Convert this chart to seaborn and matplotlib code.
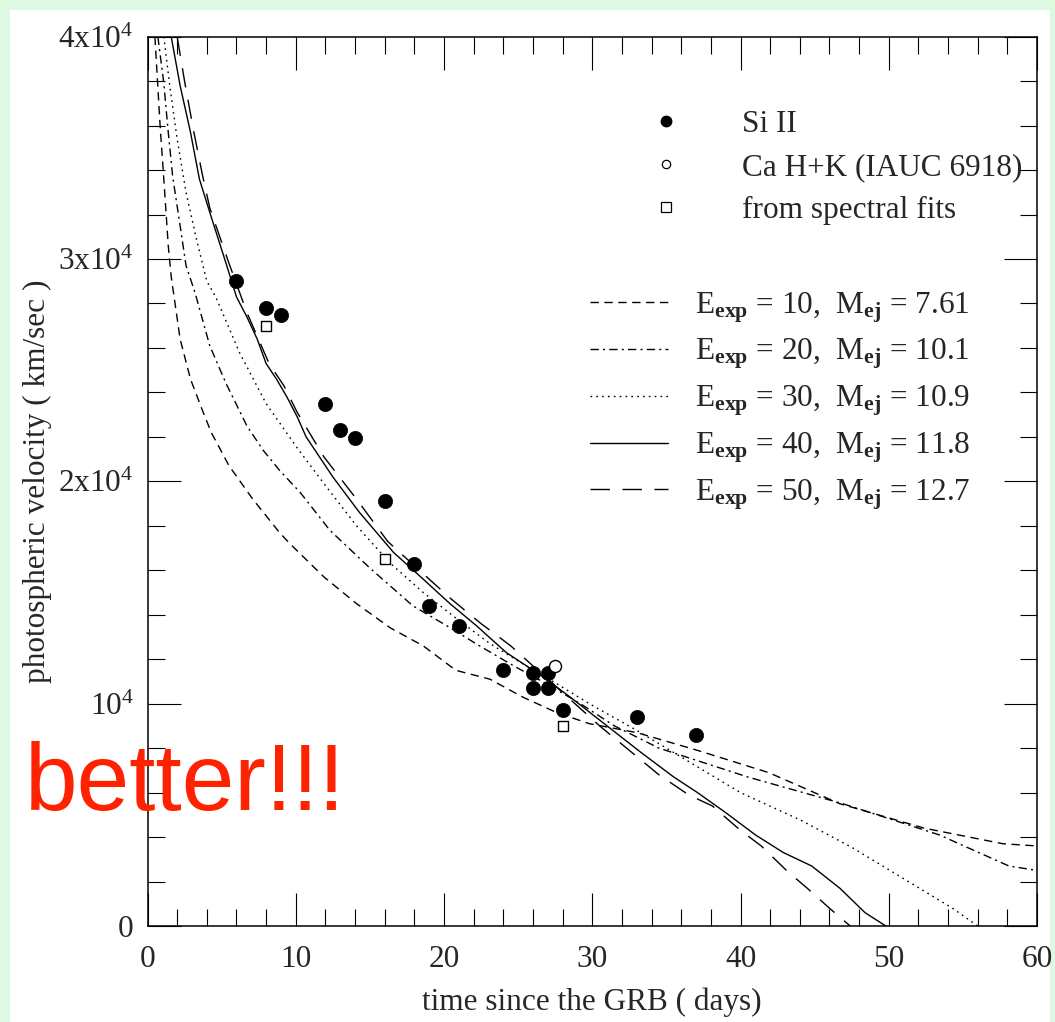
import matplotlib
matplotlib.use("Agg")
import numpy as np
import pandas as pd
import matplotlib.pyplot as plt
from matplotlib.lines import Line2D
from matplotlib.patches import Rectangle
from matplotlib.ticker import MultipleLocator, FixedLocator, FixedFormatter
import seaborn as sns

# ---- observed photospheric velocities (km/s) ----
si_days = [6, 8, 9, 12, 13, 14, 16, 18, 19, 21, 24, 26, 26, 27, 27, 28, 33, 37]
si_vel = [29000, 27800, 27500, 23500, 22300, 21950, 19100, 16300, 14400,
          13500, 11500, 11400, 10700, 11400, 10700, 9700, 9400, 8600]

ca_days = [27.5]
ca_vel = [11700]

fit_days = [8, 16, 28]
fit_vel = [27000, 16500, 9000]

# ---- model curves (km/s) ----
e10_days = [0.5, 0.85, 1.1, 1.4, 1.6, 2.2, 2.9, 3.7, 4.3, 5.5, 7.1, 8.9, 9.6, 11.9,
            14.1, 16.4, 18.6, 20.8, 23.1, 25.3, 27.6, 29.8, 33.0, 37.1, 41.9, 46.7,
            52.4, 57.7, 60.0]
e10_vel = [40000, 36000, 33600, 30600, 29200, 26400, 24600, 23200, 22200, 20700,
           19200, 17700, 17200, 15700, 14500, 13400, 12600, 11500, 11100, 10300,
           9600, 9100, 8700, 7900, 6900, 5500, 4400, 3700, 3600]

e20_days = [0.7, 1.1, 1.4, 1.7, 2.2, 2.6, 3.2, 4.2, 5.3, 6.7, 7.8, 8.9, 10.3, 12.3,
            15.0, 17.9, 20.2, 22.4, 24.7, 26.9, 29.2, 31.5, 34.5, 40.5, 46.9, 53.4,
            58.1, 60.0]
e20_vel = [40000, 37900, 35700, 33700, 31500, 29700, 28500, 26100, 24400, 22500,
           21400, 20500, 19500, 17800, 16100, 14400, 13500, 12600, 11700, 10900,
           10000, 9000, 8000, 6700, 5500, 4100, 2700, 2500]

e30_days = [1.1, 1.5, 2.0, 2.6, 3.3, 4.0, 4.6, 6.2, 8.0, 10.1, 11.9, 14.1, 16.4,
            18.6, 20.9, 23.1, 25.3, 27.6, 29.8, 33.0, 36.0, 40.0, 44.1, 47.6, 51.2,
            54.3, 56.0]
e30_vel = [40000, 37800, 35400, 33000, 30900, 29000, 28300, 25800, 23500, 21500,
           19900, 18000, 16300, 15000, 13800, 12700, 11800, 10900, 10000, 8800,
           7600, 6000, 4750, 3500, 2050, 800, 0]

e40_days = [1.6, 2.2, 2.9, 3.5, 4.2, 5.3, 6.0, 6.7, 7.4, 8.0, 8.7, 9.4, 10.1, 10.7,
            12.5, 14.3, 16.6, 18.6, 20.4, 22.2, 24.2, 26.7, 28.7, 31.0, 33.3, 35.5,
            37.1, 39.0, 41.0, 42.9, 44.8, 46.7, 48.4, 49.8]
e40_vel = [40000, 37800, 35700, 33600, 32100, 29800, 28300, 27400, 26400, 25300,
           24600, 23800, 22900, 22000, 20200, 18600, 16800, 15600, 14500, 13500,
           12300, 11200, 10200, 9000, 7800, 6700, 6000, 5100, 4100, 3300, 2700,
           1700, 600, 0]

e50_days = [2.0, 2.5, 3.1, 3.7, 4.2, 5.5, 6.7, 8.2, 9.2, 10.1, 11.9, 14.1, 16.2,
            18.5, 20.5, 22.5, 24.5, 26.5, 28.5, 30.5, 32.5, 34.5, 36.5, 38.1, 40.0,
            41.4, 43.1, 44.5, 46.0, 47.4]
e50_vel = [40000, 38000, 35800, 33800, 32300, 29800, 27600, 25300, 24300, 23100,
           21100, 19200, 17300, 15900, 14700, 13600, 12600, 11400, 10200, 9000,
           7900, 6800, 5900, 5400, 4300, 3600, 2500, 1700, 800, 0]

model_names = ["E10", "E20", "E30", "E40", "E50"]
model_labels = [
    r"E$_{\mathbf{exp}}$ = 10,  M$_{\mathbf{ej}}$ = 7.61",
    r"E$_{\mathbf{exp}}$ = 20,  M$_{\mathbf{ej}}$ = 10.1",
    r"E$_{\mathbf{exp}}$ = 30,  M$_{\mathbf{ej}}$ = 10.9",
    r"E$_{\mathbf{exp}}$ = 40,  M$_{\mathbf{ej}}$ = 11.8",
    r"E$_{\mathbf{exp}}$ = 50,  M$_{\mathbf{ej}}$ = 12.7",
]
point_labels = ["Si II", "Ca H+K (IAUC 6918)", "from spectral fits"]

x_ticks = [0, 10, 20, 30, 40, 50, 60]
y_ticks = [0, 10000, 20000, 30000, 40000]
y_tick_labels = ["0", r"10$^{4}$", r"2x10$^{4}$", r"3x10$^{4}$", r"4x10$^{4}$"]

# long-form table of the model tracks
curves = pd.concat([
    pd.DataFrame({"day": d, "vel": v, "model": m})
    for d, v, m in zip([e10_days, e20_days, e30_days, e40_days, e50_days],
                       [e10_vel, e20_vel, e30_vel, e40_vel, e50_vel],
                       model_names)
], ignore_index=True)

dash_map = {"E10": (6, 4), "E20": (6, 3, 1.5, 3), "E30": (1.2, 3),
            "E40": "", "E50": (14, 9)}

sns.set_theme(style="ticks")
plt.rcParams["font.family"] = ["Liberation Serif", "DejaVu Serif"]
plt.rcParams["mathtext.fontset"] = "custom"
plt.rcParams["mathtext.rm"] = "Liberation Serif"
plt.rcParams["mathtext.it"] = "Liberation Serif:italic"
plt.rcParams["mathtext.bf"] = "Liberation Serif:bold"

FS = 22.5
W, H = 1055, 1022
fig = plt.figure(figsize=(W / 100, H / 100), dpi=100, facecolor="#ddf9e2")
fig.patches.append(Rectangle((10 / W, 0), 1040 / W, 1012 / H,
                             transform=fig.transFigure, facecolor="white",
                             edgecolor="none", zorder=-10))

ax_l, ax_r, ax_t, ax_b = 147.5, 1037, 36.7, 926
ax = fig.add_axes([ax_l / W, 1 - ax_b / H, (ax_r - ax_l) / W, (ax_b - ax_t) / H])
ax.set_facecolor("white")

sns.lineplot(data=curves, x="day", y="vel", style="model", dashes=dash_map,
             color="black", linewidth=1.0, sort=False, estimator=None,
             legend=False, ax=ax)

sns.scatterplot(x=si_days, y=si_vel, marker="o", s=105, color="black",
                edgecolor="black", linewidth=0.5, ax=ax, zorder=4)
sns.scatterplot(x=ca_days, y=ca_vel, marker="o", s=75, color="white",
                edgecolor="black", linewidth=1.0, ax=ax, zorder=4)
sns.scatterplot(x=fit_days, y=fit_vel, marker="s", s=45, color="white",
                edgecolor="black", linewidth=1.0, ax=ax, zorder=4)

ax.set_xlim(0, 60)
ax.set_ylim(0, 40000)
ax.xaxis.set_major_locator(FixedLocator(x_ticks))
ax.xaxis.set_minor_locator(MultipleLocator(2))
ax.yaxis.set_major_locator(FixedLocator(y_ticks))
ax.yaxis.set_major_formatter(FixedFormatter(y_tick_labels))
ax.yaxis.set_minor_locator(MultipleLocator(2000))

ax.tick_params(which="both", direction="in", top=True, right=True,
               color="black", width=0.8, labelsize=FS)
ax.tick_params(which="major", length=24)
ax.tick_params(which="minor", length=12.5)
ax.tick_params(axis="x", which="major", pad=14)
ax.tick_params(axis="y", which="major", pad=10)
for s in ax.spines.values():
    s.set_linewidth(1.1)
    s.set_color("black")

ax.set_xlabel("time since the GRB ( days)", fontsize=FS)
ax.set_ylabel("photospheric velocity ( km/sec )", fontsize=FS)
ax.xaxis.set_label_coords(0.5, (ax_b - 1002) / (ax_b - ax_t))
ax.xaxis.label.set_va("center")
ax.yaxis.set_label_coords((37 - ax_l) / (ax_r - ax_l), 0.5)
ax.yaxis.label.set_va("center")

# legend for the measured points
pt_handles = [
    Line2D([], [], ls="none", marker="o", ms=7.5, mfc="black", mec="black"),
    Line2D([], [], ls="none", marker="o", ms=6.0, mfc="white", mec="black", mew=0.9),
    Line2D([], [], ls="none", marker="s", ms=6.5, mfc="white", mec="black", mew=0.9),
]
leg1 = ax.legend(pt_handles, point_labels, loc="upper left",
                 bbox_to_anchor=((640 - ax_l) / (ax_r - ax_l), (ax_b - 110) / (ax_b - ax_t)),
                 frameon=False, fontsize=FS, handlelength=1.66, handletextpad=1.6,
                 labelspacing=0.45, borderpad=0, borderaxespad=0)
ax.add_artist(leg1)

# legend for the model tracks
ln_handles = [Line2D([], [], color="black", lw=1.0, ls="-" if dash_map[m] == "" else (0, dash_map[m]))
              for m in model_names]
leg2 = ax.legend(ln_handles, model_labels, loc="upper left",
                 bbox_to_anchor=((590 - ax_l) / (ax_r - ax_l), (ax_b - 290) / (ax_b - ax_t)),
                 frameon=False, fontsize=FS, handlelength=2.5, handletextpad=0.86,
                 labelspacing=0.39, borderpad=0, borderaxespad=0)

fig.text(25 / W, 1 - 810 / H, "better!!!", color="#ff2200", fontsize=68,
         family="Liberation Sans", ha="left", va="baseline", zorder=10)

fig.savefig("out.png", dpi=100, facecolor=fig.get_facecolor())
